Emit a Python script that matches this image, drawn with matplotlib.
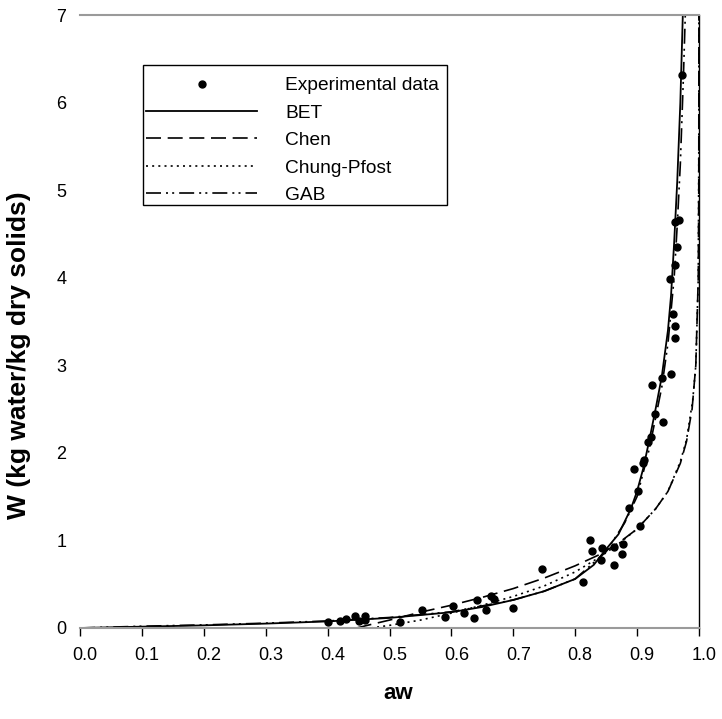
import matplotlib.pyplot as plt
import matplotlib.transforms as mtransforms
from matplotlib.patches import Rectangle
import numpy as np

plt.rcParams['font.family'] = ['Liberation Sans', 'DejaVu Sans']

exp_aw = [0.40, 0.42, 0.43, 0.445, 0.45, 0.46, 0.46, 0.517, 0.553, 0.589, 0.602,
          0.620, 0.636, 0.642, 0.656, 0.664, 0.669, 0.700, 0.747, 0.813, 0.824,
          0.827, 0.841, 0.843, 0.863, 0.863, 0.875, 0.878, 0.887, 0.895, 0.902,
          0.905, 0.910, 0.911, 0.918, 0.922, 0.925, 0.929, 0.941, 0.942, 0.955,
          0.958, 0.961, 0.961, 0.954, 0.961, 0.964, 0.961, 0.968, 0.973]
exp_w = [0.07, 0.08, 0.10, 0.14, 0.08, 0.14, 0.09, 0.07, 0.205, 0.13, 0.255,
         0.17, 0.11, 0.32, 0.20, 0.365, 0.33, 0.23, 0.67, 0.52, 1.01,
         0.88, 0.78, 0.91, 0.93, 0.72, 0.845, 0.955, 1.37, 1.815, 1.56,
         1.16, 1.88, 1.92, 2.12, 2.18, 2.77, 2.44, 2.86, 2.35, 2.90,
         3.58, 3.31, 3.45, 3.98, 4.14, 4.35, 4.64, 4.66, 6.31]

# --- Model curves ---
bet_aw = [0, 0.1, 0.2, 0.3, 0.4, 0.5, 0.6, 0.65, 0.7, 0.75, 0.8, 0.83, 0.85, 0.87,
          0.89, 0.9, 0.91, 0.92, 0.93, 0.94, 0.95, 0.955, 0.96, 0.965, 0.97, 0.974]
bet_w = [0, 0.015, 0.03, 0.05, 0.075, 0.115, 0.18, 0.24, 0.32, 0.42, 0.56, 0.72, 0.90,
         1.07, 1.36, 1.56, 1.82, 2.15, 2.5, 2.87, 3.4, 3.8, 4.4, 5.1, 6.0, 7.0]

chen_aw = [0.447, 0.47, 0.5, 0.55, 0.6, 0.65, 0.7, 0.75, 0.8, 0.84, 0.87, 0.9, 0.93,
           0.95, 0.97, 0.98, 0.989, 0.995, 0.999, 0.9998, 0.99999]
chen_w = [0, 0.04, 0.09, 0.18, 0.26, 0.35, 0.45, 0.57, 0.71, 0.84, 0.97, 1.13, 1.36,
          1.56, 1.88, 2.13, 2.5, 3.0, 4.0, 5.0, 7.0]

cp_aw = [0.47, 0.5, 0.55, 0.6, 0.65, 0.7, 0.75, 0.8, 0.84, 0.87, 0.9, 0.93, 0.95,
         0.97, 0.98, 0.99, 0.995, 0.999, 0.9999, 0.99999]
cp_w = [0, 0.03, 0.09, 0.17, 0.26, 0.36, 0.48, 0.64, 0.81, 0.96, 1.13, 1.36, 1.56,
        1.90, 2.15, 2.6, 3.0, 4.0, 5.5, 7.0]

gab_aw = [0, 0.1, 0.2, 0.3, 0.4, 0.5, 0.6, 0.7, 0.75, 0.8, 0.85, 0.88, 0.9, 0.92,
          0.94, 0.95, 0.96, 0.965, 0.97, 0.975, 0.978]
gab_w = [0, 0.02, 0.035, 0.055, 0.08, 0.12, 0.185, 0.32, 0.42, 0.56, 0.87, 1.2, 1.5,
         2.05, 2.75, 3.25, 4.0, 4.6, 5.3, 6.3, 7.0]

x_ticks = np.round(np.arange(0, 1.01, 0.1), 1)
y_ticks = range(0, 8)

# --- Figure ---
fig = plt.figure(figsize=(7.22, 7.19), dpi=100)
ax = fig.add_axes([0.111, 0.1266, 0.857, 0.8525])

ax.plot(exp_aw, exp_w, 'o', color='black', ms=5, label='Experimental data', clip_on=False, zorder=5)
ax.plot(bet_aw, bet_w, '-', color='black', lw=1.3, label='BET')
ax.plot(chen_aw, chen_w, color='black', lw=1.2, dashes=(9, 4), label='Chen')
ax.plot(cp_aw, cp_w, color='black', lw=1.2, dashes=(1.2, 2.5), label='Chung-Pfost')
ax.plot(gab_aw, gab_w, color='black', lw=1.2, dashes=(9, 3, 1.2, 2.5, 1.2, 3), label='GAB')

ax.set_xlim(0, 1)
ax.set_ylim(0, 7)
ax.set_xticks(x_ticks)
ax.set_xticklabels([f'{t:.1f}' for t in x_ticks], fontsize=13)
ax.set_yticks(list(y_ticks))
ax.set_yticklabels([str(t) for t in y_ticks], fontsize=13)
ax.tick_params(axis='x', direction='out', length=6, width=1, pad=8)
ax.tick_params(axis='y', length=0, pad=10)

# tick labels sit a little right of their ticks in the original
shift = mtransforms.ScaledTranslation(5 / 100, 0, fig.dpi_scale_trans)
for lbl in ax.get_xticklabels():
    lbl.set_transform(lbl.get_transform() + shift)

ax.spines['left'].set_visible(False)
ax.spines['top'].set_color('#9a9a9a')
ax.spines['top'].set_linewidth(1.5)
ax.spines['bottom'].set_color('#9a9a9a')
ax.spines['bottom'].set_linewidth(1.5)
ax.spines['right'].set_color('black')
ax.spines['right'].set_linewidth(1.0)

ax.set_xlabel('aw', fontsize=16, fontweight='bold')
ax.set_ylabel('W (kg water/kg dry solids)', fontsize=19, fontweight='bold')
ax.xaxis.set_label_coords(0.514, -0.089)
ax.yaxis.set_label_coords(-0.079, 0.445)

leg = ax.legend(loc='upper left', bbox_to_anchor=(0.1066, 0.899), fontsize=13.8,
                handlelength=5.8, handletextpad=1.45, labelspacing=0.52,
                borderpad=0, borderaxespad=0, frameon=False)
ax.add_patch(Rectangle((0.1018, 0.690), 0.4912, 0.228, transform=ax.transAxes,
                       fill=False, edgecolor='black', lw=1.0, zorder=6))

fig.savefig('out.png', dpi=100)
